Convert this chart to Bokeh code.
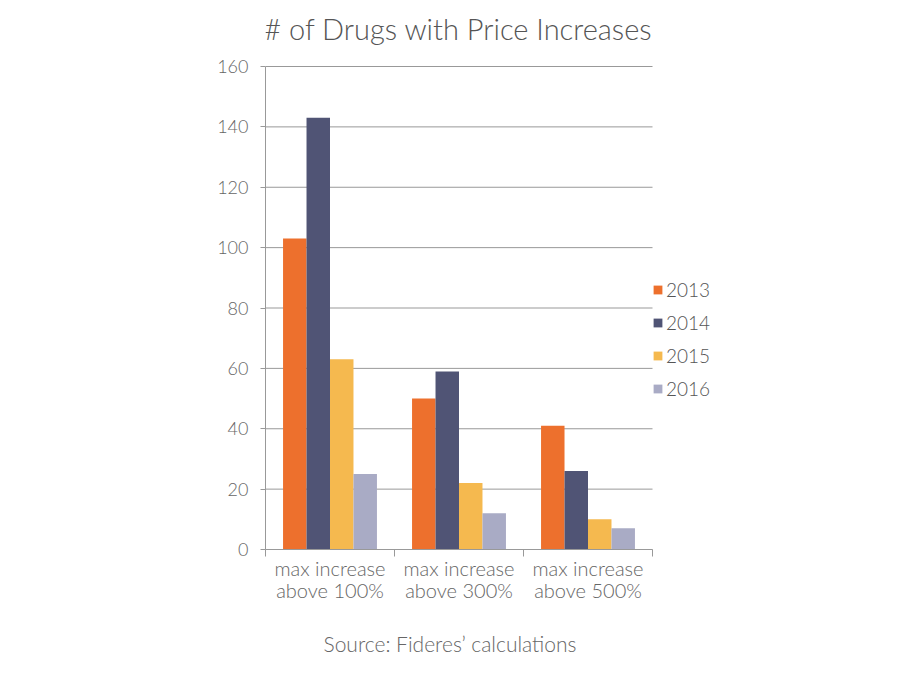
from bokeh.plotting import figure
from bokeh.models import (ColumnDataSource, Range1d, FixedTicker, Legend, LegendItem, Title, Label)
from bokeh.embed import file_html
from bokeh.resources import INLINE
import numpy as np

categories = ["max increase\nabove 100%", "max increase\nabove 300%", "max increase\nabove 500%"]
years = ["2013", "2014", "2015", "2016"]
v2013 = [103, 50, 41]
v2014 = [143, 59, 26]
v2015 = [63, 22, 10]
v2016 = [25, 12, 7]
series = [v2013, v2014, v2015, v2016]
colors = ["#ED702D", "#505475", "#F5B94F", "#A9ABC5"]
y_ticks = [0, 20, 40, 60, 80, 100, 120, 140, 160]
y_max = 160

FONT = "Lato Light, Lato"
TXT = "#555555"
GRID = "#999999"

n = len(categories)
px_per_x = 129.0          # pixels per category
px_per_y = 483.0 / y_max  # pixels per unit of value
x_end = n + 68 / px_per_x       # extra room at the right for the legend
y_end = y_max + 66 / px_per_y   # extra room at the top for the title

p = figure(width=880, height=679, output_backend="svg", toolbar_location=None,
           x_range=Range1d(0, x_end), y_range=Range1d(0, y_end),
           min_border_left=265, min_border_right=880 - 265 - int(round(x_end * px_per_x)),
           min_border_top=0, min_border_bottom=130,
           background_fill_color="white", border_fill_color="white")
p.outline_line_color = None

# horizontal gridlines only over the category area
p.segment(x0=0, x1=n, y0=y_ticks, y1=y_ticks, line_color=GRID, line_width=1)

centers = np.arange(n) + 0.5
w = 0.182
items = []
for i, (yr, vals, c) in enumerate(zip(years, series, colors)):
    src = ColumnDataSource(dict(x=centers + (i - 1.5) * w, top=vals))
    r = p.vbar(x="x", top="top", width=w, bottom=0, source=src, fill_color=c, line_color=None)
    items.append(LegendItem(label=yr, renderers=[r]))

# y axis
ya = p.yaxis[0]
ya.ticker = FixedTicker(ticks=y_ticks)
ya.bounds = (0, y_max)
ya.axis_line_color = GRID
ya.major_tick_line_color = GRID
ya.major_tick_out = 5
ya.major_tick_in = 0
ya.minor_tick_line_color = None
ya.major_label_standoff = 12
ya.major_label_text_font = FONT
ya.major_label_text_font_size = "18px"
ya.major_label_text_color = "#666666"

# x axis
xa = p.xaxis[0]
xa.ticker = FixedTicker(ticks=list(centers), minor_ticks=list(range(n + 1)))
xa.bounds = (0, n)
xa.major_label_overrides = {float(c): lab for c, lab in zip(centers, categories)}
xa.axis_line_color = GRID
xa.major_tick_line_color = None
xa.major_tick_out = 0
xa.major_tick_in = 0
xa.minor_tick_line_color = GRID
xa.minor_tick_out = 7
xa.minor_tick_in = 0
xa.major_label_standoff = -1
xa.major_label_text_font = FONT
xa.major_label_text_font_size = "20px"
xa.major_label_text_line_height = 0.92
xa.major_label_text_color = "#666666"

p.xgrid.grid_line_color = None
p.ygrid.grid_line_color = None

legend = Legend(items=items, location=(387, 149), orientation="vertical",
                padding=0, margin=0, border_line_color=None, background_fill_alpha=0,
                glyph_width=11, glyph_height=11, label_height=20, spacing=10,
                label_standoff=3, label_text_font=FONT, label_text_font_size="19px",
                label_text_color=TXT)
p.add_layout(legend, "center")

title = Label(x=(458 - 265) / px_per_x, y=y_max + (549 - 27.5 - 483) / px_per_y,
              text="# of Drugs with Price Increases", text_align="center",
              text_baseline="alphabetic", text_font=FONT, text_font_size="29px",
              text_color=TXT)
p.add_layout(title)

source = Title(text="Source: Fideres’ calculations", align="left", offset=58,
               text_font=FONT, text_font_size="21px", text_font_style="normal",
               text_color="#666666", standoff=48)
p.add_layout(source, "below")

open("out.html", "w").write(file_html(p, INLINE))
